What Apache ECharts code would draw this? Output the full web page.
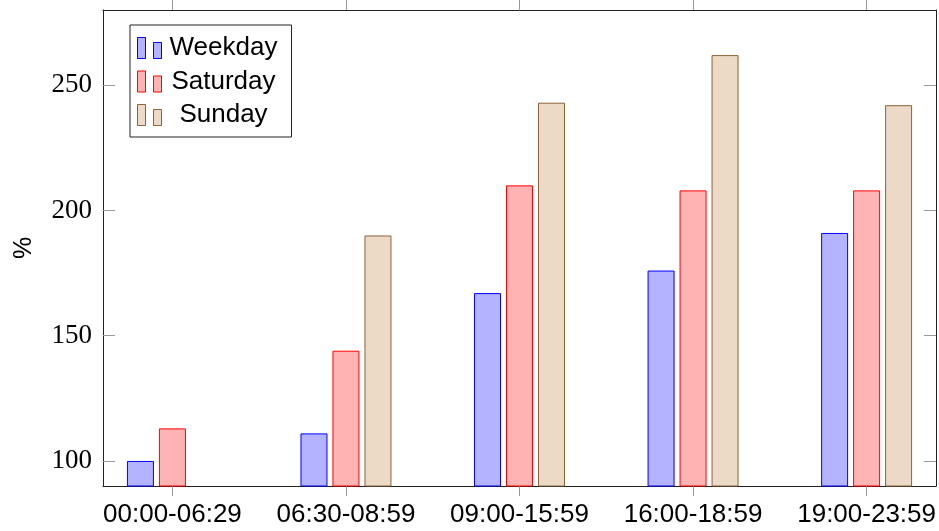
<!DOCTYPE html>
<html>
<head>
<meta charset="utf-8">
<script src="https://cdn.jsdelivr.net/npm/echarts@6/dist/echarts.min.js"></script>
<style>html,body{margin:0;padding:0;background:#fff}#c{width:939px;height:531px}</style>
</head>
<body>
<div id="c"></div>
<script>
const categories = ['00:00-06:29', '06:30-08:59', '09:00-15:59', '16:00-18:59', '19:00-23:59'];
const weekday = [100, 111, 167, 176, 191];
const saturday = [113, 144, 210, 208, 208];
const sunday = [null, 190, 243, 262, 242];
const yTicks = [100, 150, 200, 250];
const seriesNames = ['Weekday', 'Saturday', 'Sunday'];

const catIdx = categories.map((_, i) => i);
function pairs(arr) {
  const out = [];
  arr.forEach((v, i) => { if (v !== null) out.push([i, v]); });
  return out;
}
const iconPath = 'path://M0,0h8v21h-8z M16,5h8v16h-8z';
const fills = ['#b3b3ff', '#ffb3b3', '#ecd9c6'];
const borders = ['#0000ff', '#ff0000', '#8c6239'];
const dataSets = [weekday, saturday, sunday];

const chart = echarts.init(document.getElementById('c'), null, {renderer: 'canvas'});
const xCommon = {
  type: 'value', min: -0.4, max: 4.4,
  axisLine: {show: true, onZero: false, lineStyle: {color: '#222', width: 1}},
  axisTick: {show: true, inside: false, length: 10, customValues: catIdx, lineStyle: {color: '#999'}},
  splitLine: {show: false}
};
const yCommon = {
  type: 'value', min: 90, max: 280,
  axisLine: {show: true, onZero: false, lineStyle: {color: '#222', width: 1}},
  axisTick: {show: true, inside: true, length: 12, customValues: yTicks, lineStyle: {color: '#999'}},
  splitLine: {show: false}
};
chart.setOption({
  animation: false,
  grid: {left: 103, right: 2, top: 10, bottom: 45, containLabel: false},
  legend: {
    orient: 'vertical', left: 130, top: 25,
    padding: [9, 11, 8, 7],
    borderColor: '#222', borderWidth: 1,
    itemWidth: 24, itemHeight: 21, itemGap: 5.5,
    icon: iconPath,
    itemStyle: {borderWidth: 1},
    data: seriesNames,
    formatter: n => '{c|' + n + '}',
    textStyle: {
      fontFamily: 'Liberation Sans', fontSize: 26, color: '#000',
      rich: {c: {width: 114, height: 28, align: 'center', fontFamily: 'Liberation Sans', fontSize: 26, lineHeight: 28}}
    }
  },
  xAxis: [
    Object.assign({}, xCommon, {
      position: 'bottom',
      axisLabel: {show: true, customValues: catIdx, margin: 16, formatter: v => categories[Math.round(v)],
        fontFamily: 'Liberation Sans', fontSize: 26, color: '#000'}
    }),
    Object.assign({}, xCommon, {position: 'top', axisLabel: {show: false}})
  ],
  yAxis: [
    Object.assign({}, yCommon, {
      position: 'left',
      name: '%', nameLocation: 'middle', nameRotate: 90, nameGap: 66,
      nameTextStyle: {fontFamily: 'Liberation Sans', fontSize: 25, color: '#000'},
      axisLabel: {show: true, customValues: yTicks, margin: 11,
        fontFamily: 'Liberation Serif', fontSize: 27, color: '#000'}
    }),
    Object.assign({}, yCommon, {position: 'right', axisLabel: {show: false}})
  ],
  series: seriesNames.map((name, k) => ({
    name: name, type: 'bar', xAxisIndex: 0, yAxisIndex: 0,
    barWidth: 27, barGap: '18.5%',
    itemStyle: {color: fills[k], borderColor: borders[k], borderWidth: 1},
    data: pairs(dataSets[k])
  }))
});
</script>
</body>
</html>
